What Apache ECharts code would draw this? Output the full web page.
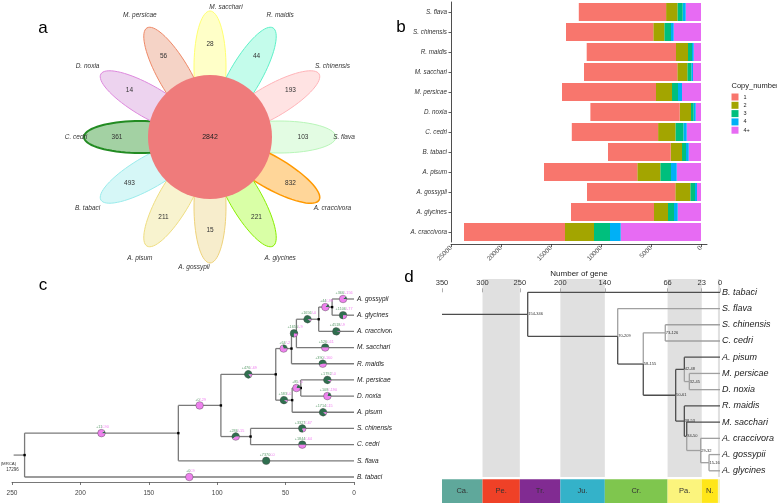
<!DOCTYPE html>
<html><head><meta charset="utf-8">
<script src="https://cdn.jsdelivr.net/npm/echarts@6/dist/echarts.min.js"></script>
<style>html,body{margin:0;padding:0;background:#fff}#c{width:777px;height:504px}</style>
</head><body><div id="c"></div>
<script>
// ---------- Panel a : flower diagram ----------
const flowerNames = ['M. sacchari','R. maidis','S. chinensis','S. flava','A. craccivora','A. glycines','A. gossypii','A. pisum','B. tabaci','C. cedri','D. noxia','M. persicae'];
const flowerCounts = [28,44,193,103,832,221,15,211,493,361,14,56];
const coreCount = 2842;
const petalFill = ['#FFFFC8','#C4FCEB','#FFE3E3','#E3FCE3','#FFD699','#D9FFA6','#F7EDCC','#F8F3CF','#D6F7F7','#A3D1A3','#EDD3EF','#F5D3C6'];
const petalStroke = ['#FFFF70','#5EF0C8','#FFB3B8','#B8F5B8','#FF9900','#88EE00','#EED27A','#EEDD80','#99EBEB','#228B22','#DD88DD','#EE8866'];

// ---------- Panel b : copy number stacked bars ----------
const speciesB = ['S. flava','S. chinensis','R. maidis','M. sacchari','M. persicae','D. noxia','C. cedri','B. tabaci','A. pisum','A. gossypii','A. glycines','A. craccivora'];
const copy1  = [8730,8730,8930,9330,9400,8930,8630,6270,9330,8830,8300,10100];
const copy2  = [1130,1100,1200,1000,1600,1130,1730,1130,2300,1500,1400,2900];
const copy3  = [530,670,400,400,600,270,800,400,1070,470,600,1600];
const copy4  = [300,270,170,170,400,200,330,270,570,200,370,1070];
const copy4p = [1530,2730,730,800,1900,530,1430,1230,2430,400,2330,8030];
const copyLegend = ['1','2','3','4','4+'];
const copyTicks = [0,5000,10000,15000,20000,25000];

// ---------- Panel c : gain / loss tree ----------
const cLeaves = ['A. gossypii','A. glycines','A. craccivora','M. sacchari','R. maidis','M. persicae','D. noxia','A. pisum','S. chinensis','C. cedri','S. flava','B. tabaci'];
const cNodeIds = ['root','N1','N2','N3','N4','N5','N6','N7','N8','N9','N10'];
const cNodeAges = [240.8,128.4,97.3,57.2,75.6,45.7,45.2,38.9,42.1,25.8,16.0];
const cNodeKids = [['N1','B. tabaci'],['N2','S. flava'],['N3','N4'],['N5','N6'],['S. chinensis','C. cedri'],['N8','R. maidis'],['N7','A. pisum'],['M. persicae','D. noxia'],['N9','M. sacchari'],['N10','A. craccivora'],['A. gossypii','A. glycines']];
const cStemAge = 248.8;
const cRootFamilies = 17296;
const cBranchIds = ['N1','B. tabaci','N2','S. flava','N3','N4','S. chinensis','C. cedri','N5','N6','N8','R. maidis','N7','A. pisum','M. persicae','D. noxia','N9','M. sacchari','N10','A. craccivora','A. gossypii','A. glycines'];
const cGreenShare = [0.1,0,0,1,0.88,0.6,0.8,0.5,0.3,0.92,0.75,0.55,0.2,0.9,0.92,0.2,0.92,0.5,0.15,0.97,0.12,0.75];
const cGain = [11,0,0,7370,476,286,3327,1844,64,583,1655,390,85,1714,1792,108,1656,526,44,4518,366,1106];
const cLoss = [90,9,29,0,69,15,67,64,2,0,9,160,5,15,0,190,0,61,99,9,156,77];
const cTicks = [250,200,150,100,50,0];

// ---------- Panel d : time tree ----------
const dLeaves = ['B. tabaci','S. flava','S. chinensis','C. cedri','A. pisum','M. persicae','D. noxia','R. maidis','M. sacchari','A. craccivora','A. gossypii','A. glycines'];
const dNodeIds = ['root','N1','N2','N3','N4','N5','N6','N7','N8','N9','N10'];
const dNodeAges = [242.1,128.8,96.6,68.9,55.8,44.9,44.9,38.6,41.9,24.3,13.8];
const dNodeKids = [['B. tabaci','N1'],['S. flava','N2'],['N3','N4'],['S. chinensis','C. cedri'],['N5','N6'],['A. pisum','N7'],['R. maidis','N8'],['M. persicae','D. noxia'],['M. sacchari','N9'],['A. craccivora','N10'],['A. gossypii','A. glycines']];
const dNodeRanges = ['154-346','70-209','58-155','73-126','50-61','42-48','38-53','32-45','34-50','29-32','15-16'];
const dStemAge = 350;
const dDarkBranches = ['B. tabaci','N1','N2','N4','N5','A. pisum','N6','R. maidis','N8','M. sacchari'];
const geoNames  = ['Ca.','Pe.','Tr.','Ju.','Cr.','Pa.','N.',''];
const geoStart  = [350,299,252,201,145,66,23,2.6];
const geoEnd    = [299,252,201,145,66,23,2.6,0];
const geoColors = ['#5FA89B','#EF4127','#812B92','#34B2C9','#7FC64E','#FBF47D','#FFE619','#F4F4C0'];
const geoTickValues = [350,299,252,201,145,66,23,0];
const geoTickLabels = ['350','300','250','200','140','66','23','0'];

// ---------- helpers ----------
const FONT = 'Liberation Sans, Arial, sans-serif';
function layoutY(leaves, ids, kids){
  const y = {};
  leaves.forEach((l,i)=>{ y[l]=i; });
  function gy(n){ if(n in y) return y[n]; const k = kids[ids.indexOf(n)]; const v=(gy(k[0])+gy(k[1]))/2; y[n]=v; return v; }
  ids.forEach(gy);
  return y;
}
function ageOf(ids, ages, n){ const i = ids.indexOf(n); return i<0 ? 0 : ages[i]; }
function seg(els, p1, p2, style){ els.push({type:'line', shape:{x1:p1[0],y1:p1[1],x2:p2[0],y2:p2[1]}, style:style}); }

function renderFlower(params, api){
  const els = [];
  const D = 70, A = 56, B = 16;
  flowerNames.forEach((n,i)=>{
    const th = (90 - i*30)*Math.PI/180;
    const pts = [];
    for(let t=0;t<72;t++){
      const u = t/72*2*Math.PI;
      const lx = D + A*Math.cos(u), ly = B*Math.sin(u);
      pts.push(api.coord([lx*Math.cos(th)-ly*Math.sin(th), lx*Math.sin(th)+ly*Math.cos(th)]));
    }
    els.push({type:'polygon', shape:{points:pts}, style:{fill:petalFill[i], stroke:petalStroke[i], lineWidth: i===9 ? 2 : (i===4?1.5:1)}});
  });
  const c = api.coord([0,0]);
  const r = api.size([62,0])[0];
  els.push({type:'circle', shape:{cx:c[0], cy:c[1], r:r}, style:{fill:'#EF7B7B'}});
  els.push({type:'text', style:{text:String(coreCount), x:c[0], y:c[1], align:'center', verticalAlign:'middle', fontSize:7, fontFamily:FONT, fill:'#222'}});
  flowerNames.forEach((n,i)=>{
    const th = (90 - i*30)*Math.PI/180;
    const p = api.coord([93*Math.cos(th), 93*Math.sin(th)]);
    els.push({type:'text', style:{text:String(flowerCounts[i]), x:p[0], y:p[1], align:'center', verticalAlign:'middle', fontSize:6.5, fontFamily:FONT, fill:'#333'}});
    const tl = th - (Math.abs(Math.sin(th))>0.99 ? 7*Math.PI/180 : 0);
    const rl = 131 + 9*Math.abs(Math.sin(2*th)) + 3*Math.abs(Math.cos(th));
    const q = api.coord([rl*Math.cos(tl), rl*Math.sin(tl)]);
    els.push({type:'text', style:{text:n, x:q[0], y:q[1], align:'center', verticalAlign:'middle', fontSize:6.5, fontStyle:'italic', fontFamily:FONT, fill:'#333'}});
  });
  return {type:'group', children:els};
}

function renderTreeC(params, api){
  const yPos = layoutY(cLeaves, cNodeIds, cNodeKids);
  const P = (a,y)=>api.coord([a,y]);
  const els = [];
  const ls = {stroke:'#7A7A7A', lineWidth:1.3};
  seg(els, P(cStemAge, yPos.root), P(cNodeAges[0], yPos.root), {stroke:'#333', lineWidth:0.8});
  cNodeIds.forEach((id,i)=>{
    const a = cNodeAges[i], ks = cNodeKids[i];
    seg(els, P(a, yPos[ks[0]]), P(a, yPos[ks[1]]), ls);
    ks.forEach(k=>seg(els, P(a, yPos[k]), P(ageOf(cNodeIds,cNodeAges,k), yPos[k]), ls));
  });
  cNodeIds.forEach((id,i)=>{
    const p = P(cNodeAges[i], yPos[id]);
    els.push({type:'rect', shape:{x:p[0]-1.2, y:p[1]-1.2, width:2.4, height:2.4}, style:{fill:'#000'}});
  });
  const GREEN = '#2F6F4F', PINK = '#EE82EE';
  cBranchIds.forEach((k,j)=>{
    const pi = cNodeKids.findIndex(ks=>ks.indexOf(k)>=0);
    const mid = (cNodeAges[pi] + ageOf(cNodeIds,cNodeAges,k))/2;
    const c = P(mid, yPos[k]);
    const r = 3.8, f = cGreenShare[j];
    if(f>=0.999) els.push({type:'circle', shape:{cx:c[0],cy:c[1],r:r}, style:{fill:GREEN}});
    else if(f<=0.001) els.push({type:'circle', shape:{cx:c[0],cy:c[1],r:r}, style:{fill:PINK}});
    else {
      els.push({type:'sector', shape:{cx:c[0],cy:c[1],r0:0,r:r,startAngle:-2*Math.PI*f,endAngle:0,clockwise:true}, style:{fill:GREEN}});
      els.push({type:'sector', shape:{cx:c[0],cy:c[1],r0:0,r:r,startAngle:0,endAngle:2*Math.PI*(1-f),clockwise:true}, style:{fill:PINK}});
    }
    els.push({type:'circle', shape:{cx:c[0],cy:c[1],r:r}, style:{fill:'none', stroke:'#444', lineWidth:0.4}});
    els.push({type:'text', style:{text:'{g|+'+cGain[j]+'}{p|/-'+cLoss[j]+'}', x:c[0]+1, y:c[1]-4, align:'center', verticalAlign:'bottom', fontSize:3.8, fontFamily:FONT,
      rich:{g:{fill:'#5E9E6E', fontSize:3.8}, p:{fill:'#F07FF0', fontSize:3.8}}}});
  });
  cLeaves.forEach(l=>{
    const p = P(0, yPos[l]);
    els.push({type:'text', style:{text:l, x:p[0]+3, y:p[1], align:'left', verticalAlign:'middle', fontSize:6.5, fontStyle:'italic', fontFamily:FONT, fill:'#222'}});
  });
  const s = P(cStemAge, yPos.root);
  els.push({type:'text', style:{text:'(MRCA)', x:s[0]+2.5, y:s[1]+8.5, align:'right', verticalAlign:'middle', fontSize:4.3, fontFamily:FONT, fill:'#333'}});
  els.push({type:'text', style:{text:String(cRootFamilies), x:s[0]+5, y:s[1]+14.5, align:'right', verticalAlign:'middle', fontSize:4.5, fontFamily:FONT, fill:'#333'}});
  return {type:'group', children:els};
}

function renderTreeD(params, api){
  const yPos = layoutY(dLeaves, dNodeIds, dNodeKids);
  const P = (a,y)=>api.coord([a,y]);
  const els = [];
  geoStart.forEach((s,i)=>{
    if(i%2===1){
      const a = P(s,-0.82), b = P(geoEnd[i],11.38);
      els.push({type:'rect', shape:{x:a[0], y:a[1], width:b[0]-a[0], height:b[1]-a[1]}, style:{fill:'#E0E0E0'}});
    }
  });
  geoStart.forEach((s,i)=>{
    const a = P(s,11.52), b = P(geoEnd[i],12.98);
    els.push({type:'rect', shape:{x:a[0], y:a[1], width:b[0]-a[0], height:b[1]-a[1]}, style:{fill:geoColors[i]}});
    if(geoNames[i]) els.push({type:'text', style:{text:geoNames[i], x:(a[0]+b[0])/2, y:(a[1]+b[1])/2, align:'center', verticalAlign:'middle', fontSize:7.5, fontFamily:FONT, fill:'#333'}});
  });
  const dark = {stroke:'#4D4D4D', lineWidth:1.3}, light = {stroke:'#A0A0A0', lineWidth:1.3};
  const st = k => dDarkBranches.indexOf(k)>=0 ? dark : light;
  seg(els, P(dStemAge, yPos.root), P(dNodeAges[0], yPos.root), dark);
  dNodeIds.forEach((id,i)=>{
    const a = dNodeAges[i], ks = dNodeKids[i];
    ks.forEach(k=>{
      seg(els, P(a, yPos[id]), P(a, yPos[k]), st(k));
      seg(els, P(a, yPos[k]), P(ageOf(dNodeIds,dNodeAges,k), yPos[k]), st(k));
    });
  });
  dNodeIds.forEach((id,i)=>{
    const p = P(dNodeAges[i], yPos[id]);
    els.push({type:'text', style:{text:dNodeRanges[i], x:p[0]+0.5, y:p[1], align:'left', verticalAlign:'middle', fontSize:4, fontFamily:FONT, fill:'#333'}});
  });
  dLeaves.forEach(l=>{
    const p = P(0, yPos[l]);
    els.push({type:'text', style:{text:l, x:p[0]+2, y:p[1], align:'left', verticalAlign:'middle', fontSize:9, fontStyle:'italic', fontFamily:FONT, fill:'#1a1a1a'}});
  });
  return {type:'group', children:els};
}

const chart = echarts.init(document.getElementById('c'));
const copyNames = ['4+','4','3','2','1'];
const copyData = [copy4p, copy4, copy3, copy2, copy1];
const copyColors = ['#E76BF3','#00B0F6','#00BF7D','#A3A500','#F8766D'];

const option = {
  animation:false,
  textStyle:{fontFamily:FONT},
  grid:[
    {left:451, top:2, width:256, height:240},
    {left:12, top:299, width:342, height:178},
    {left:442, top:292.3, width:278, height:178.5},
    {left:60, top:0, width:300, height:274}
  ],
  xAxis:[
    {gridIndex:0, type:'value', min:-600, max:25000, inverse:true, offset:2,
     name:'Number of gene', nameLocation:'middle', nameGap:26, nameTextStyle:{fontSize:8, color:'#222'},
     axisLine:{show:true, onZero:false, lineStyle:{color:'#222', width:0.8}},
     axisTick:{show:true, length:3, customValues:copyTicks, lineStyle:{color:'#333', width:0.8}},
     axisLabel:{customValues:copyTicks, rotate:45, fontSize:6.5, color:'#4D4D4D', margin:3, formatter:v=>String(v)},
     splitLine:{show:false}},
    {gridIndex:1, type:'value', min:0, max:250, inverse:true, offset:5,
     axisLine:{show:true, onZero:false, lineStyle:{color:'#555', width:0.8}},
     axisTick:{show:true, length:3, customValues:cTicks, lineStyle:{color:'#555', width:0.8}},
     axisLabel:{customValues:cTicks, fontSize:6.5, color:'#444', margin:8, formatter:v=>String(v)},
     splitLine:{show:false}},
    {gridIndex:2, type:'value', min:0, max:350, inverse:true, position:'top', z:10,
     axisLine:{show:false, onZero:false},
     axisTick:{show:true, length:4, customValues:geoTickValues, lineStyle:{color:'#999', width:0.8}},
     axisLabel:{customValues:geoTickValues, fontSize:7.5, color:'#333', margin:5,
       formatter:v=>{ const i = geoTickValues.indexOf(v); return i<0 ? '' : geoTickLabels[i]; }},
     splitLine:{show:false}},
    {gridIndex:3, type:'value', min:-150, max:150, show:false}
  ],
  yAxis:[
    {gridIndex:0, type:'category', data:speciesB, inverse:true,
     axisLine:{show:true, onZero:false, lineStyle:{color:'#222', width:0.8}},
     axisTick:{show:true, length:2.5, alignWithLabel:true, lineStyle:{color:'#333', width:0.8}},
     axisLabel:{fontSize:6.3, fontStyle:'italic', color:'#333', margin:4}},
    {gridIndex:1, type:'value', min:0, max:11, inverse:true, show:false},
    {gridIndex:2, type:'value', min:0, max:11, inverse:true, show:false},
    {gridIndex:3, type:'value', min:-137, max:137, show:false}
  ],
  legend:{data:copyLegend, orient:'vertical', left:731.5, top:93.5, padding:0, itemWidth:7, itemHeight:7, itemGap:1.3, icon:'rect',
    selectedMode:false, textStyle:{fontSize:5.5, color:'#222', lineHeight:7}},
  graphic:[
    {type:'rect', shape:{x:392, y:288, width:48, height:196}, style:{fill:'#fff'}, z:100},
    {type:'text', style:{text:'a', x:43, y:28, align:'center', verticalAlign:'middle', fontSize:17, fontFamily:FONT, fill:'#000'}, z:101},
    {type:'text', style:{text:'b', x:401, y:27.5, align:'center', verticalAlign:'middle', fontSize:17, fontFamily:FONT, fill:'#000'}, z:101},
    {type:'text', style:{text:'c', x:43, y:285, align:'center', verticalAlign:'middle', fontSize:17, fontFamily:FONT, fill:'#000'}, z:101},
    {type:'text', style:{text:'d', x:409, y:277, align:'center', verticalAlign:'middle', fontSize:17, fontFamily:FONT, fill:'#000'}, z:101},
    {type:'text', style:{text:'Copy_number', x:731.5, y:86, align:'left', verticalAlign:'middle', fontSize:7.5, fontFamily:FONT, fill:'#222'}, z:101}
  ],
  series: copyNames.map((n,i)=>({
    name:n, type:'bar', stack:'copy', xAxisIndex:0, yAxisIndex:0, data:copyData[i], barWidth:18,
    itemStyle:{color:copyColors[i]}, silent:true
  })).concat([
    {type:'custom', xAxisIndex:3, yAxisIndex:3, data:[[0,0]], renderItem:renderFlower, silent:true},
    {type:'custom', xAxisIndex:1, yAxisIndex:1, data:[[0,0]], renderItem:renderTreeC, silent:true},
    {type:'custom', xAxisIndex:2, yAxisIndex:2, data:[[0,0]], renderItem:renderTreeD, silent:true, z:1}
  ])
};
chart.setOption(option);
</script></body></html>
